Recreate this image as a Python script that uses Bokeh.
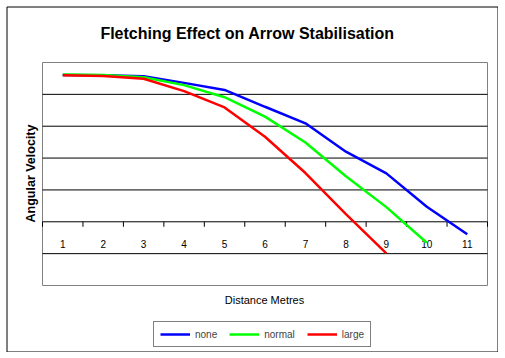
import math
from bokeh.plotting import figure
from bokeh.models import Range1d, Label, Legend, LegendItem
from bokeh.core.properties import value
from bokeh.embed import file_html
from bokeh.resources import INLINE

# ---- data ----
distance = [1, 2, 3, 4, 5, 6, 7, 8, 9, 10, 11]
tick_labels = ["1", "2", "3", "4", "5", "6", "7", "8", "9", "10", "11"]
none_vals = [4.61, 4.60, 4.57, 4.36, 4.14, 3.61, 3.09, 2.20, 1.52, 0.47, -0.39]
normal_vals = [4.62, 4.61, 4.54, 4.29, 3.91, 3.30, 2.49, 1.43, 0.46, -0.66]
large_vals = [4.60, 4.58, 4.49, 4.10, 3.59, 2.67, 1.53, 0.24, -0.99]
y_gridlines = [-1, 0, 1, 2, 3, 4]
y_min, y_max = -2, 5

FONT = "Liberation Sans"

# ---- layout (pixels from the canvas top-left) ----
W, H = 498, 352
BOX_L, BOX_T, BOX_R, BOX_B = 6, 6, 497, 351     # outer chart box
PA_L, PA_T, PA_R, PA_B = 42, 62, 487, 285       # plot area
x0, x1 = distance[0] - 0.5, distance[-1] + 0.5
ux = (PA_R - PA_L) / (x1 - x0)
uy = (PA_B - PA_T) / (y_max - y_min)
xs = x0 - PA_L / ux
xe = x1 + (W - PA_R) / ux
ye = y_max + PA_T / uy
ys = y_min - (H - PA_B) / uy


def px(v):
    return xs + v / ux


def py(v):
    return ye - v / uy


p = figure(width=W, height=H, output_backend="svg", toolbar_location=None,
           x_axis_location=None, y_axis_location=None,
           x_range=Range1d(xs, xe), y_range=Range1d(ys, ye),
           min_border=0)
p.background_fill_color = "white"
p.border_fill_color = "white"
p.outline_line_color = None
p.grid.visible = False

# outer chart box
p.quad(left=[px(BOX_L + 0.5)], right=[px(BOX_R + 0.5)], top=[py(BOX_T + 0.5)], bottom=[py(BOX_B + 0.5)],
       fill_color="white", line_color="black", line_width=1)

# plot area
p.quad(left=[x0], right=[x1], bottom=[y_min], top=[y_max],
       fill_color="white", line_color="#808080", line_width=1)

# horizontal gridlines (the zero line doubles as the category axis)
p.segment(x0=[x0] * len(y_gridlines), x1=[x1] * len(y_gridlines),
          y0=y_gridlines, y1=y_gridlines, line_color="black", line_width=1)

# category boundary ticks below the zero line
bounds = [d - 0.5 for d in distance] + [distance[-1] + 0.5]
p.ray(x=bounds, y=[0] * len(bounds), length=5, length_units="screen",
      angle=-math.pi / 2, line_color="black", line_width=1)

# category labels
p.text(x=distance, y=[0] * len(distance), text=tick_labels, y_offset=22,
       text_align="center", text_baseline="alphabetic",
       text_font_size="10px", text_color="black", text_font=value(FONT))

r_none = p.line(distance[:len(none_vals)], none_vals, line_color="#0000FF", line_width=2.5)
r_normal = p.line(distance[:len(normal_vals)], normal_vals, line_color="#00FF00", line_width=2.5)
r_large = p.line(distance[:len(large_vals)], large_vals, line_color="#FF0000", line_width=2.5)

# texts: screen pixels measured from the canvas bottom-left
title = Label(x=247, y=H - 33, x_units="screen", y_units="screen",
              text="Fletching Effect on Arrow Stabilisation",
              text_font=FONT, text_font_size="16px", text_font_style="bold",
              text_align="center", text_baseline="alphabetic", text_color="black")
p.add_layout(title)

ylab = Label(x=30, y=H - 173, x_units="screen", y_units="screen",
             text="Angular Velocity", angle=math.pi / 2,
             text_font=FONT, text_font_size="12.5px", text_font_style="bold",
             text_align="center", text_baseline="middle", text_color="black")
p.add_layout(ylab)

xlab = Label(x=264, y=H - 299.5, x_units="screen", y_units="screen",
             text="Distance Metres",
             text_font=FONT, text_font_size="11px",
             text_align="center", text_baseline="alphabetic", text_color="black")
p.add_layout(xlab)

legend = Legend(items=[LegendItem(label="none", renderers=[r_none]),
                       LegendItem(label="normal", renderers=[r_normal]),
                       LegendItem(label="large", renderers=[r_large])],
                orientation="horizontal", location=(153, H - 347),
                label_text_font=FONT, label_text_font_size="10px",
                glyph_width=30, glyph_height=12, label_standoff=5, spacing=12,
                padding=6, margin=0,
                border_line_color="black", border_line_width=1,
                background_fill_color="white", background_fill_alpha=1)
p.add_layout(legend)

open("out.html", "w").write(file_html(p, INLINE))
